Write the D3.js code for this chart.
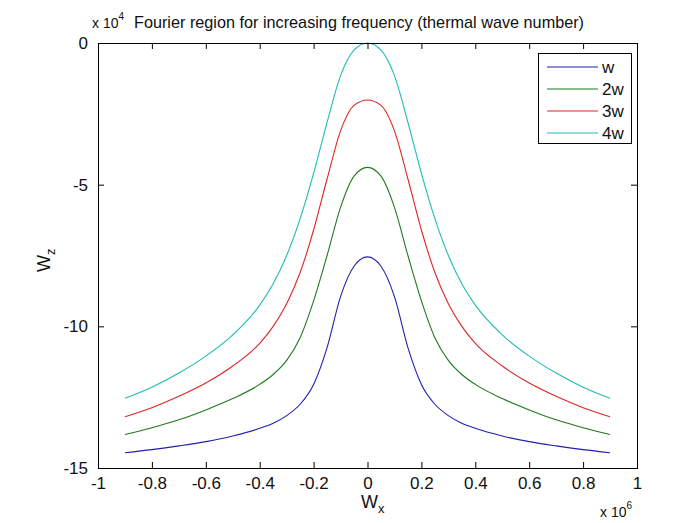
<!DOCTYPE html>
<html>
<head>
<meta charset="utf-8">
<script src="https://cdn.jsdelivr.net/npm/d3@7"></script>
<style>
  html, body { margin: 0; padding: 0; background: #fff; }
  text { font-family: "Liberation Sans", Arial, sans-serif; fill: #111; }
</style>
</head>
<body>
<div id="chart"></div>
<script>
  "use strict";

  // wx in units of 1e6, wz in units of 1e4
  var wx = [-0.9, -0.8, -0.7, -0.6, -0.5, -0.4, -0.35, -0.3, -0.25, -0.2, -0.15, -0.1, -0.05, 0,
            0.05, 0.1, 0.15, 0.2, 0.25, 0.3, 0.35, 0.4, 0.5, 0.6, 0.7, 0.8, 0.9];
  var wz1 = [-14.46, -14.35, -14.22, -14.07, -13.87, -13.60, -13.42, -13.15, -12.75, -12.05, -10.75, -8.95, -7.88, -7.55,
             -7.88, -8.95, -10.75, -12.05, -12.75, -13.15, -13.42, -13.60, -13.87, -14.07, -14.22, -14.35, -14.46];
  var wz2 = [-13.82, -13.58, -13.30, -12.95, -12.55, -12.05, -11.70, -11.20, -10.40, -9.10, -7.50, -5.80, -4.70, -4.39,
             -4.70, -5.80, -7.50, -9.10, -10.40, -11.20, -11.70, -12.05, -12.55, -12.95, -13.30, -13.58, -13.82];
  var wz3 = [-13.19, -12.87, -12.47, -12.00, -11.40, -10.60, -10.00, -9.20, -8.10, -6.60, -4.80, -3.10, -2.20, -2.01,
             -2.20, -3.10, -4.80, -6.60, -8.10, -9.20, -10.00, -10.60, -11.40, -12.00, -12.47, -12.87, -13.19];
  var wz4 = [-12.54, -12.15, -11.65, -11.05, -10.30, -9.25, -8.50, -7.50, -6.20, -4.60, -2.80, -1.15, -0.25, 0,
             -0.25, -1.15, -2.80, -4.60, -6.20, -7.50, -8.50, -9.25, -10.30, -11.05, -11.65, -12.15, -12.54];

  var seriesNames = ["w", "2w", "3w", "4w"];
  var seriesColors = ["#2020b0", "#1e7a1e", "#e02424", "#22baba"];
  var seriesValues = [wz1, wz2, wz3, wz4];

  var xTicks = [-1, -0.8, -0.6, -0.4, -0.2, 0, 0.2, 0.4, 0.6, 0.8, 1];
  var yTicks = [0, -5, -10, -15];

  var width = 696, height = 523;
  var box = {left: 98, right: 637, top: 43, bottom: 468};

  var svg = d3.select("#chart").append("svg")
    .attr("width", width)
    .attr("height", height);

  svg.append("rect")
    .attr("width", width)
    .attr("height", height)
    .attr("fill", "#fff");

  var x = d3.scaleLinear().domain([-1, 1]).range([box.left, box.right]);
  var y = d3.scaleLinear().domain([-15, 0]).range([box.bottom, box.top]);

  // curves
  var line = d3.line()
    .x(function(d) { return x(d[0]); })
    .y(function(d) { return y(d[1]); })
    .curve(d3.curveMonotoneX);

  seriesValues.forEach(function(vals, i) {
    svg.append("path")
      .datum(wx.map(function(v, j) { return [v, vals[j]]; }))
      .attr("d", line)
      .attr("fill", "none")
      .attr("stroke", seriesColors[i])
      .attr("stroke-width", 1.1);
  });

  // axes: ticks pointing inward on all four sides
  var tickLen = 6;
  var fmt = function(d) { return d === 0 ? "0" : String(d); };

  svg.append("g")
    .attr("transform", "translate(0," + box.bottom + ")")
    .call(d3.axisBottom(x).tickValues(xTicks).tickSize(-tickLen).tickPadding(tickLen + 3).tickFormat(fmt))
    .call(function(g) { g.select(".domain").remove(); });
  svg.append("g")
    .attr("transform", "translate(0," + box.top + ")")
    .call(d3.axisTop(x).tickValues(xTicks).tickSize(-tickLen).tickFormat(""))
    .call(function(g) { g.select(".domain").remove(); });
  svg.append("g")
    .attr("transform", "translate(" + box.left + ",0)")
    .call(d3.axisLeft(y).tickValues(yTicks).tickSize(-tickLen).tickPadding(tickLen + 4).tickFormat(fmt))
    .call(function(g) { g.select(".domain").remove(); });
  svg.append("g")
    .attr("transform", "translate(" + box.right + ",0)")
    .call(d3.axisRight(y).tickValues(yTicks).tickSize(-tickLen).tickFormat(""))
    .call(function(g) { g.select(".domain").remove(); });

  svg.selectAll(".tick line").attr("stroke", "#000");
  svg.selectAll(".tick text")
    .style("font-size", "17px")
    .attr("fill", "#111");

  svg.append("rect")
    .attr("x", box.left + 0.5)
    .attr("y", box.top + 0.5)
    .attr("width", box.right - box.left)
    .attr("height", box.bottom - box.top)
    .attr("fill", "none")
    .attr("stroke", "#000");

  // title and exponents
  svg.append("text")
    .attr("x", 134).attr("y", 28)
    .attr("font-size", 17)
    .attr("textLength", 450)
    .attr("lengthAdjust", "spacingAndGlyphs")
    .text("Fourier region for increasing frequency (thermal wave number)");

  var e4 = svg.append("text").attr("x", 92).attr("y", 28).attr("font-size", 14);
  e4.append("tspan").text("x 10");
  e4.append("tspan").attr("dy", -8).attr("font-size", 10).text("4");

  var e6 = svg.append("text").attr("x", 600).attr("y", 517).attr("font-size", 14);
  e6.append("tspan").text("x 10");
  e6.append("tspan").attr("dy", -8).attr("font-size", 10).text("6");

  // axis labels
  var xl = svg.append("text")
    .attr("x", 361).attr("y", 508)
    .attr("font-size", 18);
  xl.append("tspan").text("W");
  xl.append("tspan").attr("dy", 5).attr("font-size", 13).text("x");

  var yl = svg.append("text")
    .attr("transform", "translate(50,272) rotate(-90)")
    .attr("font-size", 18);
  yl.append("tspan").text("W");
  yl.append("tspan").attr("dy", 5).attr("font-size", 13).text("z");

  // legend
  var legend = svg.append("g");
  legend.append("rect")
    .attr("x", 538.5).attr("y", 53.5)
    .attr("width", 93).attr("height", 90)
    .attr("fill", "#fff")
    .attr("stroke", "#000");
  seriesNames.forEach(function(name, i) {
    var ly = 67 + i * 22;
    legend.append("line")
      .attr("x1", 547).attr("x2", 598)
      .attr("y1", ly).attr("y2", ly)
      .attr("stroke", seriesColors[i])
      .attr("stroke-width", 1.1);
    legend.append("text")
      .attr("x", 602).attr("y", ly + 6)
      .attr("font-size", 17)
      .text(name);
  });
</script>
</body>
</html>
